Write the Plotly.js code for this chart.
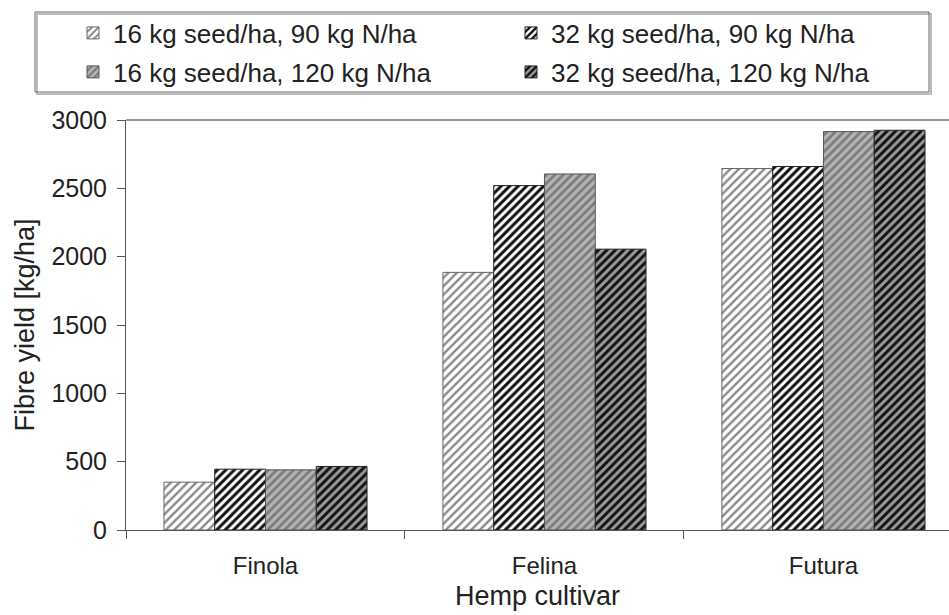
<!DOCTYPE html>
<html>
<head>
<meta charset="utf-8">
<script src="https://cdn.plot.ly/plotly-3.0.1.min.js"></script>
<style>
  html, body { margin: 0; padding: 0; background: #fff; }
  #chart { width: 949px; height: 615px; }
</style>
</head>
<body>
<div id="chart"></div>
<script>
const categories = ["Finola", "Felina", "Futura"];
const seriesNames = [
  "16 kg seed/ha, 90 kg N/ha",
  "32 kg seed/ha, 90 kg N/ha",
  "16 kg seed/ha, 120 kg N/ha",
  "32 kg seed/ha, 120 kg N/ha"
];
const s16_90 = [350, 1885, 2645];
const s32_90 = [445, 2520, 2660];
const s16_120 = [440, 2605, 2915];
const s32_120 = [465, 2055, 2925];
const yTicks = [0, 500, 1000, 1500, 2000, 2500, 3000];

const FONT = "Liberation Sans, Arial, sans-serif";
const styles = [
  {bg: "#ffffff", fg: "#8a8a8a", sol: 0.4, line: "#666", legend: "legend"},
  {bg: "#ffffff", fg: "#111111", sol: 0.5, line: "#222", legend: "legend"},
  {bg: "#b4b4b4", fg: "#7a7a7a", sol: 0.45, line: "#555", legend: "legend2"},
  {bg: "#9a9a9a", fg: "#111111", sol: 0.5, line: "#222", legend: "legend2"}
];
const values = [s16_90, s32_90, s16_120, s32_120];

const data = values.map((v, i) => ({
  type: "bar",
  name: seriesNames[i],
  legend: styles[i].legend,
  x: categories,
  y: v,
  marker: {
    color: styles[i].bg,
    pattern: {shape: "/", fgcolor: styles[i].fg, bgcolor: styles[i].bg, size: 6, solidity: styles[i].sol},
    line: {color: styles[i].line, width: 1}
  },
  hoverinfo: "skip"
}));

const W = 949, H = 615, L = 126, T = 120, B = 85;
const plotW = W - L, plotH = H - T - B;
const px2paperX = px => (px - L) / plotW;
const px2paperY = py => 1 + (T - py) / plotH;

const legendBase = {
  orientation: "h",
  x: px2paperX(74), xanchor: "left",
  yanchor: "middle",
  entrywidth: 393,
  font: {family: FONT, size: 26, color: "#222"},
  borderwidth: 0,
  bgcolor: "rgba(0,0,0,0)",
  traceorder: "normal"
};

const layout = {
  width: W, height: H,
  margin: {l: L, r: 0, t: T, b: B, pad: 0},
  paper_bgcolor: "#fff",
  plot_bgcolor: "#fff",
  font: {family: FONT, color: "#222", size: 24},
  barmode: "group",
  bargap: 0.272,
  bargroupgap: 0,
  showlegend: true,
  legend: Object.assign({}, legendBase, {y: px2paperY(33)}),
  legend2: Object.assign({}, legendBase, {y: px2paperY(72)}),
  xaxis: {
    type: "category",
    range: [-0.5, 2.45],
    showline: true, linecolor: "#555", linewidth: 1,
    mirror: false,
    ticks: "outside", ticklen: 8, tickcolor: "#555",
    tickson: "boundaries",
    ticklabelstandoff: 14,
    showgrid: false, zeroline: false,
    tickfont: {family: FONT, size: 24, color: "#222"},
    title: {text: "Hemp cultivar", font: {family: FONT, size: 27, color: "#222"}, standoff: 8}
  },
  yaxis: {
    range: [0, 3000],
    tickvals: yTicks,
    ticktext: yTicks.map(String),
    showline: true, linecolor: "#555", linewidth: 1,
    ticks: "outside", ticklen: 8, tickcolor: "#555",
    ticklabelstandoff: 5,
    showgrid: false, zeroline: false,
    tickfont: {family: FONT, size: 25, color: "#222"},
    title: {text: "Fibre yield [kg/ha]", font: {family: FONT, size: 27, color: "#222"}, standoff: 8}
  },
  shapes: [
    {type: "line", xref: "paper", yref: "paper", x0: 0, x1: 1, y0: 1, y1: 1,
     line: {color: "#999", width: 2}},
    {type: "rect", xref: "paper", yref: "paper",
     x0: px2paperX(37), x1: px2paperX(931), y0: px2paperY(14), y1: px2paperY(94),
     line: {color: "#bbb", width: 2}, fillcolor: "rgba(0,0,0,0)"},
    {type: "rect", xref: "paper", yref: "paper",
     x0: px2paperX(35), x1: px2paperX(929), y0: px2paperY(12), y1: px2paperY(92),
     line: {color: "#666", width: 1}, fillcolor: "rgba(0,0,0,0)"}
  ]
};

Plotly.newPlot("chart", data, layout, {displayModeBar: false, staticPlot: true});
</script>
</body>
</html>
